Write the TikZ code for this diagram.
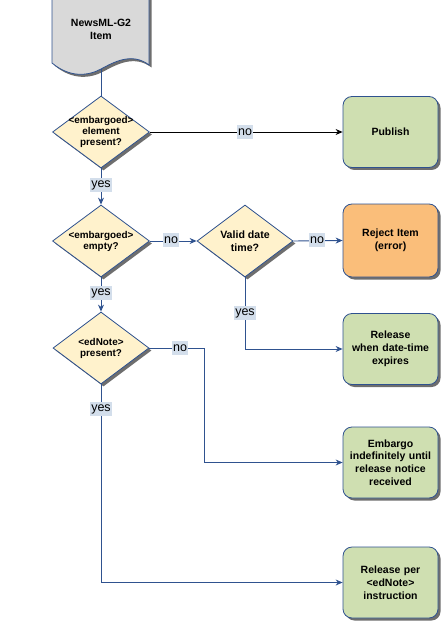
\documentclass[tikz,border=0pt]{standalone}
\usepackage{fontspec}
\setmainfont{Liberation Sans}
\usetikzlibrary{shapes.geometric,arrows.meta,shadows}
\definecolor{lineblue}{RGB}{47,82,143}
\definecolor{diafill}{RGB}{255,242,204}
\definecolor{boxgreen}{RGB}{207,223,177}
\definecolor{boxorange}{RGB}{250,190,122}
\definecolor{docgray}{RGB}{217,217,217}
\definecolor{lblbg}{RGB}{211,222,235}
\definecolor{shadowgray}{RGB}{110,110,110}
\tikzset{
  shad/.style={drop shadow={shadow xshift=2.5pt,shadow yshift=-2.5pt,fill=shadowgray,opacity=1}},
  dia/.style={diamond,draw=lineblue,line width=0.8pt,fill=diafill,minimum width=97pt,minimum height=72pt,inner sep=0pt,shad},
  dtext/.style={align=center,font=\bfseries\fontsize{9.9}{11}\selectfont,inner sep=0pt},
  endbox/.style={rectangle,rounded corners=9pt,draw=lineblue,line width=0.8pt,fill=boxgreen,minimum width=95pt,minimum height=71pt,text width=92pt,align=center,inner sep=0pt,font=\bfseries\fontsize{10.5}{12.8}\selectfont,shad},
  lbl/.style={fill=lblbg,inner xsep=1.2pt,inner ysep=1pt,minimum height=14pt,font=\fontsize{12.5}{13}\selectfont},
  conn/.style={draw=lineblue,line width=0.9pt},
  arr/.style={conn,-{Stealth[length=7pt,width=6pt]}}
}
\begin{document}
\begin{tikzpicture}[x=1pt,y=-1pt]
\useasboundingbox (0,0) rectangle (441,631);
% document shape
\fill[shadowgray] (54.5,-5) -- (54.5,65.5) .. controls (72.5,80.5) and (90.5,78.5) .. (103.5,71.5) .. controls (116.5,64.5) and (134.5,54.5) .. (151.5,67.5) -- (151.5,-5) -- cycle;
\draw[lineblue,line width=0.8pt,fill=docgray] (52,-5) -- (52,63) .. controls (70,78) and (88,76) .. (101,69) .. controls (114,62) and (132,52) .. (149,65) -- (149,-5) -- cycle;
\node[align=center,font=\bfseries\fontsize{10.5}{13}\selectfont,inner sep=0pt] (doc) at (101,29) {NewsML-G2\\Item};
\coordinate (docb) at (101,69.5);

% decisions
\node[dia] (d1) at (101,132) {};
\node[dtext] (d1t) at (d1) {<embargoed>\\element\\present?};
\node[dia] (d2) at (101,241) {};
\node[dtext] (d2t) at (d2) {<embargoed>\\empty?};
\node[dia,minimum width=96pt] (d3) at (245,241) {};
\node[dtext,font=\bfseries\fontsize{10.6}{13}\selectfont] (d3t) at (d3) {Valid date\\time?};
\node[dia,minimum width=96pt] (d4) at (101,348) {};
\node[dtext] (d4t) at (d4) {<edNote>\\present?};

% end boxes
\node[endbox] (pub) at (390.5,132) {Publish};
\node[endbox,fill=boxorange,minimum height=73pt] (rej) at (390.5,240.5) {Reject Item\\(error)};
\node[endbox] (rel) at (390.5,349) {Release\\when date-time\\expires};
\node[endbox] (emb) at (390.5,462.5) {Embargo\\indefinitely until\\release notice\\received};
\node[endbox] (relp) at (390.5,582.5) {Release per\\<edNote>\\instruction};

% connectors
\draw[conn] (docb) -- (d1.north);
\draw[conn,draw=black,-{Stealth[length=7pt,width=6pt]}] (d1.east) -- (pub.west);
\node[lbl] (l1) at (245,132) {no};
\draw[arr] (d1.south) -- (d2.north);
\node[lbl] (l2) at (101,185) {yes};
\draw[arr] (d2.east) -- (d3.west);
\node[lbl] (l3) at (171,240) {no};
\draw[arr] (d3.east) -- (rej.west);
\node[lbl] (l4) at (317,240) {no};
\draw[arr] (d3.south) |- (rel.west);
\node[lbl] (l5) at (245,313) {yes};
\draw[arr] (d2.south) -- (d4.north);
\node[lbl] (l6) at (101,293) {yes};
\draw[arr] (d4.east) -- ++(55,0) |- (emb.west);
\node[lbl] (l7) at (180,348) {no};
\draw[arr] (d4.south) |- (relp.west);
\node[lbl] (l8) at (101,409) {yes};
\end{tikzpicture}
\end{document}
